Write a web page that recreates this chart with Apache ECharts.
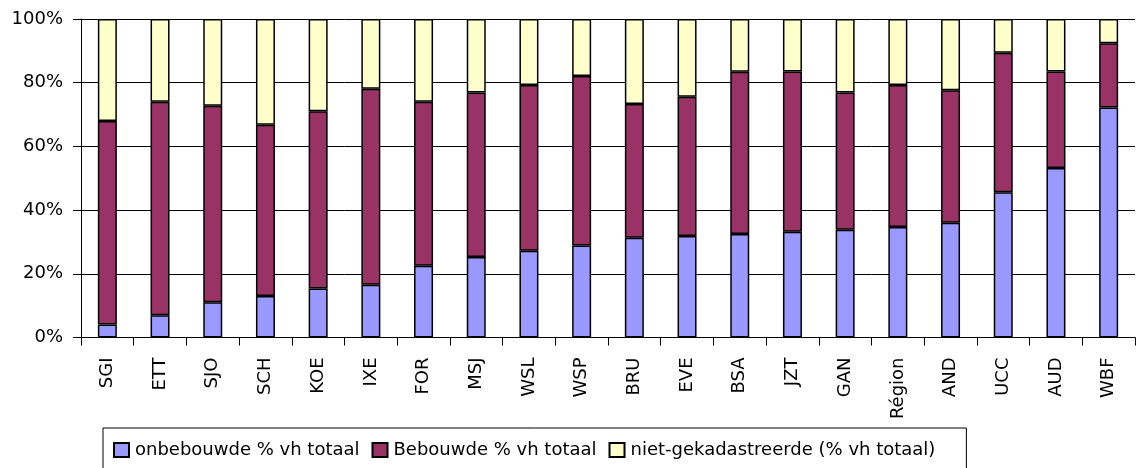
<!DOCTYPE html>
<html>
<head>
<meta charset="utf-8">
<script src="https://cdn.jsdelivr.net/npm/echarts@6/dist/echarts.min.js"></script>
<style>
html,body{margin:0;padding:0;background:#fff;}
#chart{width:1143px;height:468px;}
</style>
</head>
<body>
<div id="chart"></div>
<script>
const categories = ["SGI","ETT","SJO","SCH","KOE","IXE","FOR","MSJ","WSL","WSP","BRU","EVE","BSA","JZT","GAN","Région","AND","UCC","AUD","WBF"];
const onbebouwde = [4.1, 7.0, 11.1, 13.0, 15.4, 16.6, 22.5, 25.3, 27.2, 28.9, 31.3, 31.9, 32.5, 33.2, 33.8, 34.7, 36.0, 45.6, 53.2, 72.2];
const bebouwde = [63.9, 67.0, 61.7, 53.8, 55.6, 61.5, 51.5, 51.6, 52.1, 53.2, 42.0, 43.7, 50.9, 50.3, 43.1, 44.6, 41.6, 43.8, 30.3, 20.2];
const nietGekadastreerde = [32.0, 26.0, 27.2, 33.2, 29.0, 21.9, 26.0, 23.1, 20.7, 17.9, 26.7, 24.4, 16.6, 16.5, 23.1, 20.7, 22.4, 10.6, 16.5, 7.6];
const seriesNames = ["onbebouwde % vh totaal", "Bebouwde % vh totaal", "niet-gekadastreerde (% vh totaal)"];

const font = "DejaVu Sans";
const chart = echarts.init(document.getElementById('chart'), null, {renderer: 'canvas'});
function bar(name, data, color) {
  return {
    name: name, type: 'bar', stack: 'total', data: data, barWidth: 19,
    itemStyle: {color: color, borderColor: '#000', borderWidth: 1.5},
    emphasis: {disabled: true}
  };
}
chart.setOption({
  animation: false,
  grid: {left: 81, right: 8, top: 19, bottom: 130.5, containLabel: false},
  legend: {
    left: 103, top: 428,
    padding: [13, 31, 10, 10],
    borderColor: '#000', borderWidth: 1,
    itemWidth: 15, itemHeight: 14, itemGap: 12,
    icon: 'rect',
    textStyle: {fontFamily: font, fontSize: 18, color: '#000', padding: [0,0,0,1]},
    data: seriesNames
  },
  xAxis: {
    type: 'category', data: categories,
    axisLine: {lineStyle: {color: '#000', width: 1}},
    axisTick: {show: true, length: 8, lineStyle: {color: '#000'}},
    axisLabel: {rotate: 90, margin: 20, interval: 0, fontFamily: font, fontSize: 18, color: '#000'}
  },
  yAxis: {
    type: 'value', min: 0, max: 100, interval: 20,
    axisLine: {show: true, lineStyle: {color: '#000', width: 1}},
    axisTick: {show: true, length: 8, lineStyle: {color: '#000'}},
    axisLabel: {formatter: '{value}%', margin: 18, fontFamily: font, fontSize: 18, color: '#000'},
    splitLine: {show: true, lineStyle: {color: '#000', width: 1}}
  },
  series: [
    bar(seriesNames[0], onbebouwde, '#9999FF'),
    bar(seriesNames[1], bebouwde, '#993366'),
    bar(seriesNames[2], nietGekadastreerde, '#FFFFCC')
  ]
});
</script>
</body>
</html>
